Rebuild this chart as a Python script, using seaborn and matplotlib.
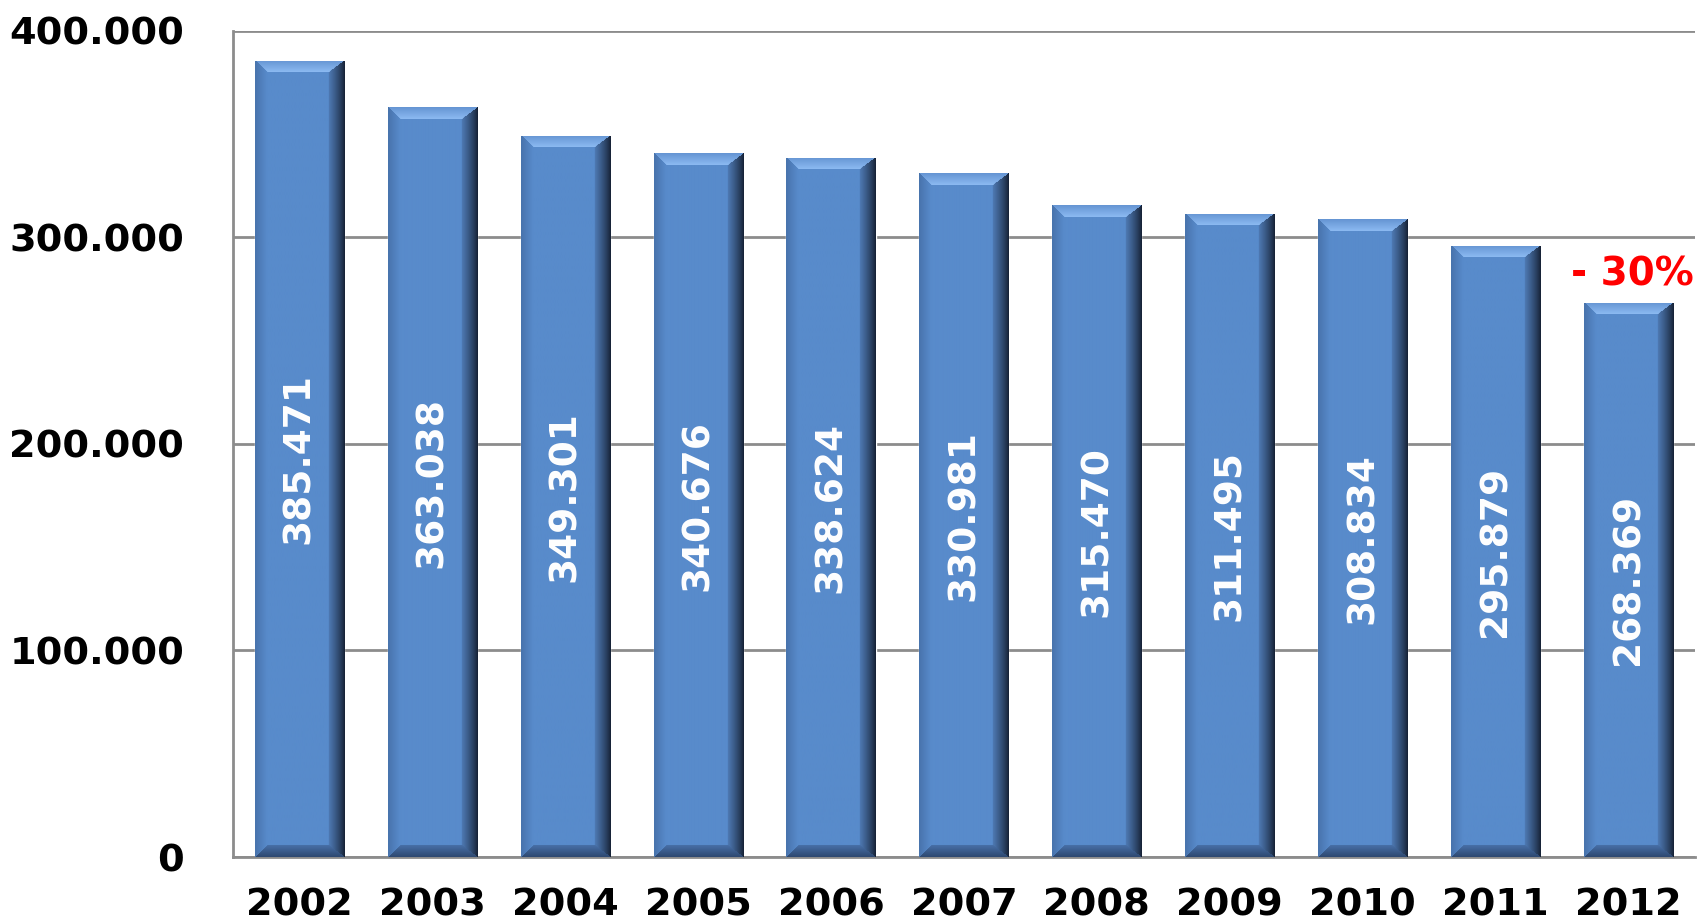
import numpy as np
import pandas as pd
import matplotlib
matplotlib.use("Agg")
import matplotlib.pyplot as plt
import seaborn as sns

# Data
years = ["2002", "2003", "2004", "2005", "2006", "2007", "2008", "2009", "2010", "2011", "2012"]
values = [385471, 363038, 349301, 340676, 338624, 330981, 315470, 311495, 308834, 295879, 268369]
y_ticks = [0, 100000, 200000, 300000, 400000]
change_label = "- 30%"

df = pd.DataFrame({"year": years, "value": values})


def fmt(v):
    return f"{v:,}".replace(",", ".")


def bevel_texture(w, h, b=12, br=16):
    # pixel texture for a bevelled bar: light top, dark right, darker bottom
    u = np.arange(w)[None, :] + 0.5
    v = np.arange(h)[:, None] + 0.5
    u = np.broadcast_to(u, (h, w))
    v = np.broadcast_to(v, (h, w))
    dl = u / b
    dr = (w - u) / br
    dt = v / b
    db = (h - v) / b
    d = np.stack([dl, dr, dt, db])
    side = np.argmin(d, axis=0)
    dmin = np.min(d, axis=0)

    face = np.array([88, 139, 203]) / 255
    img = np.ones((h, w, 3)) * face

    # left facet
    m = (side == 0) & (dmin < 1)
    t = dl[m][:, None]
    img[m] = (1 - t) * np.array([72, 115, 172]) / 255 + t * face
    # right facet
    m = (side == 1) & (dmin < 1)
    t = dr[m][:, None] ** 0.8
    img[m] = (1 - t) * np.array([20, 30, 48]) / 255 + t * np.array([78, 122, 180]) / 255
    # top facet
    m = (side == 2) & (dmin < 1)
    t = dt[m][:, None]
    img[m] = (1 - t) * np.array([100, 148, 210]) / 255 + t * np.array([140, 186, 242]) / 255
    # bottom facet
    m = (side == 3) & (dmin < 1)
    t = db[m][:, None]
    img[m] = (1 - t) * np.array([45, 72, 112]) / 255 + t * np.array([72, 112, 168]) / 255
    return np.clip(img, 0, 1)


sns.set_style("white")
plt.rcParams["font.family"] = ["DejaVu Sans"]

fig = plt.figure(figsize=(17, 9.23), dpi=100)
ax = fig.add_axes([0.137, 0.0715, 0.86, 0.895])

sns.barplot(data=df, x="year", y="value", color="#588BCB", saturation=1,
            width=0.67, ax=ax, zorder=2)

ax.set_xlim(-0.5, len(years) - 0.5)
ax.set_ylim(0, 400000)

grey = "#8c8c8c"
ax.yaxis.grid(True, color=grey, linewidth=2)
ax.set_axisbelow(True)
for s in ["top", "right"]:
    ax.spines[s].set_visible(False)
for s in ["left", "bottom"]:
    ax.spines[s].set_color(grey)
    ax.spines[s].set_linewidth(2)

ax.set_yticks(y_ticks)
ax.set_yticklabels([fmt(t) for t in y_ticks], fontsize=27.5, fontweight="bold", color="black")
ax.tick_params(axis="y", length=9, width=2, color=grey, pad=26)

ax.set_xticks(np.arange(len(years)))
ax.set_xticklabels(years, fontsize=27.5, fontweight="bold", color="black")
ax.tick_params(axis="x", which="major", length=0, pad=22)
ax.set_xticks(np.arange(-0.5, len(years), 1), minor=True)
ax.tick_params(axis="x", which="minor", length=6, width=2, color=grey, direction="out")
ax.set_xlabel("")
ax.set_ylabel("")

# bevel shading on each bar
fig.canvas.draw()
for p in ax.patches:
    x0, y0 = p.get_x(), p.get_y()
    w, h = p.get_width(), p.get_height()
    (px0, py0), (px1, py1) = ax.transData.transform([(x0, y0), (x0 + w, y0 + h)])
    tex = bevel_texture(int(round(px1 - px0)), int(round(py1 - py0)))
    im = ax.imshow(tex, extent=(x0, x0 + w, y0, y0 + h), aspect="auto",
                   origin="upper", interpolation="bilinear", zorder=3)
    im.set_clip_path(p)

ax.set_xlim(-0.5, len(years) - 0.5)
ax.set_ylim(0, 400000)

# value labels
for p, v in zip(ax.patches, values):
    ax.text(p.get_x() + p.get_width() / 2, v / 2, fmt(v), rotation=90,
            ha="center", va="center", color="white", fontsize=27,
            fontweight="bold", zorder=5)

ax.text(len(years) - 1 + 0.03, values[-1] + 13500, change_label, ha="center",
        va="center", color="#ff0000", fontsize=28, fontweight="bold", zorder=5)

fig.savefig("out.png", dpi=100)
